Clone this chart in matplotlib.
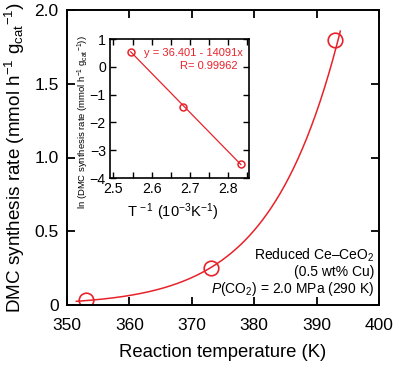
import numpy as np
import matplotlib
matplotlib.use("Agg")
import matplotlib.pyplot as plt

plt.rcParams['font.family'] = ['Liberation Sans', 'DejaVu Sans']
plt.rcParams['mathtext.fontset'] = 'custom'
plt.rcParams['mathtext.rm'] = 'Liberation Sans'
plt.rcParams['mathtext.it'] = 'Liberation Sans:italic'
plt.rcParams['mathtext.bf'] = 'Liberation Sans:bold'
plt.rcParams['axes.unicode_minus'] = True

# Data
temperature_K = [353, 373, 393]
dmc_rate = [0.034, 0.25, 1.80]
inv_T_1e3 = [2.545, 2.681, 2.833]
ln_rate = [0.55, -1.45, -3.50]
fit_intercept = 36.401
fit_slope = -14091
fit_T_range = [351.5, 393.8]
fit_invT_range = [2.545, 2.833]
x_ticks = [350, 360, 370, 380, 390, 400]
y_ticks = [0, 0.5, 1.0, 1.5, 2.0]
y_ticklabels = ['0', '0.5', '1.0', '1.5', '2.0']
inset_xticks = [2.5, 2.6, 2.7, 2.8]
inset_xminor = [2.55, 2.65, 2.75, 2.85]
inset_yticks = [-4, -3, -2, -1, 0, 1]

red = '#e8222a'

fig = plt.figure(figsize=(3.97, 3.67), dpi=100)
ax = fig.add_axes([67/397, 1-305/367, 312/397, 295/367])

T = np.linspace(fit_T_range[0], fit_T_range[1], 300)
ax.plot(T, np.exp(fit_intercept + fit_slope / T), color=red, lw=1.1)
ax.plot(temperature_K, dmc_rate, 'o', mfc='none', mec=red, mew=1.2, ms=10.5)

ax.set_xlim(350, 400)
ax.set_ylim(0, 2.0)
ax.set_xticks(x_ticks)
ax.set_yticks(y_ticks)
ax.set_yticklabels(y_ticklabels)
ax.tick_params(direction='in', length=6, width=1.3, top=True, right=True,
               labelsize=12.5)
ax.tick_params(axis='x', pad=9)
ax.tick_params(axis='y', pad=6)
for s in ax.spines.values():
    s.set_linewidth(1.4)
ax.set_xlabel('Reaction temperature (K)', fontsize=13.3, labelpad=8)
ax.set_ylabel(r'DMC synthesis rate (mmol h$^{-1}$ g$_{\mathrm{cat}}$$^{-1}$)',
              fontsize=13.6, labelpad=5)

ax.text(0.985, 0.17, r'Reduced Ce–CeO$_2$', transform=ax.transAxes,
        ha='right', va='center', fontsize=10)
ax.text(0.985, 0.112, '(0.5 wt% Cu)', transform=ax.transAxes,
        ha='right', va='center', fontsize=10)
ax.text(0.985, 0.054, r'$P$(CO$_2$) = 2.0 MPa (290 K)', transform=ax.transAxes,
        ha='right', va='center', fontsize=10)

# Inset
ins = fig.add_axes([110/397, 1-178/367, 139/397, 139/367])
xi = np.linspace(fit_invT_range[0], fit_invT_range[1], 50)
ins.plot(xi, fit_intercept + fit_slope * xi * 1e-3, color=red, lw=0.9)
ins.plot(inv_T_1e3, ln_rate, 'o', mfc='none', mec=red, mew=1.1, ms=5)
ins.set_xlim(2.491, 2.854)
ins.set_ylim(-4, 1)
ins.set_xticks(inset_xticks)
ins.set_xticks(inset_xminor, minor=True)
ins.set_yticks(inset_yticks)
ins.set_xticklabels([f'{v:.1f}' for v in inset_xticks])
ins.set_yticklabels([str(v).replace('-', '−') for v in inset_yticks])
ins.tick_params(which='both', direction='in', length=4, width=1.0, top=True,
                right=True, labelsize=10.2, pad=3)
for s in ins.spines.values():
    s.set_linewidth(1.2)
ins.set_xlabel(r'T$^{\,-1}$ (10$^{-3}$K$^{-1}$)', fontsize=10.5)
ins.xaxis.set_label_coords(0.45, -0.17)
ins.set_ylabel(r'ln (DMC synthesis rate (mmol h$^{-1}$ g$_{\mathrm{cat}}$$^{-1}$))',
               fontsize=6.8, va='center')
ins.yaxis.set_label_coords(-0.194, 0.40)
ins.text(0.955, 0.9, 'y = 36.401 - 14091x', transform=ins.transAxes,
         ha='right', va='center', fontsize=8, color=red)
ins.text(0.915, 0.806, 'R= 0.99962', transform=ins.transAxes,
         ha='right', va='center', fontsize=8, color=red)

fig.savefig('out.png', dpi=100)
